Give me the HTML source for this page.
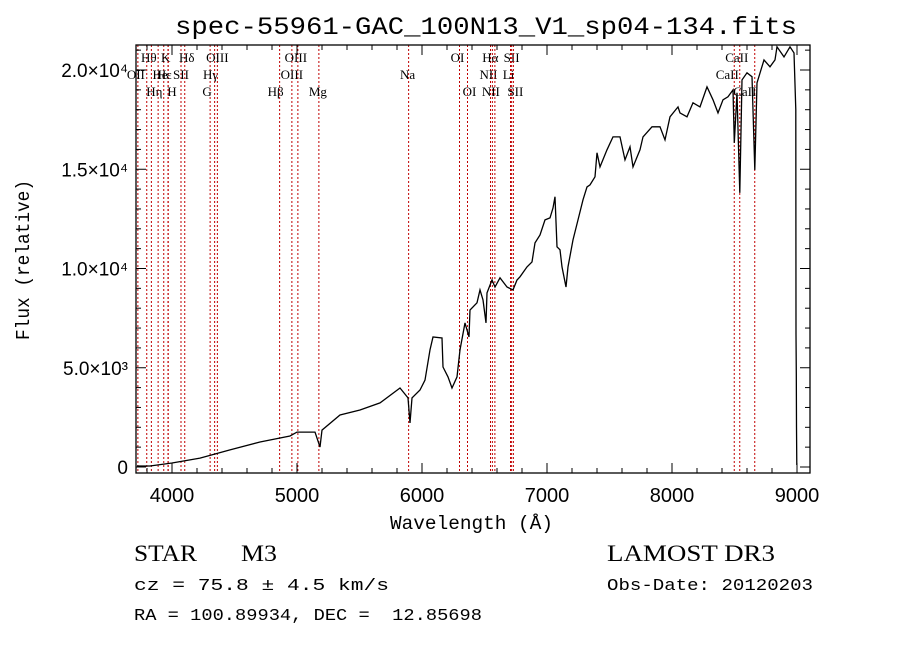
<!DOCTYPE html>
<html><head><meta charset="utf-8"><style>
html,body{margin:0;padding:0;background:#fff;}
svg{display:block;}
text{font-family:"Liberation Sans",sans-serif;fill:#000;}
.lbl{font-family:"Liberation Serif",serif;font-size:13px;}
.mono{font-family:"Liberation Mono",monospace;}
.serif{font-family:"Liberation Serif",serif;}
</style></head><body>
<svg id="chart" width="900" height="649" xmlns="http://www.w3.org/2000/svg">
<text class="mono" x="175" y="34" font-size="25" textLength="622" lengthAdjust="spacingAndGlyphs">spec-55961-GAC_100N13_V1_sp04-134.fits</text>
<g id="lines"></g><g id="axes"></g>
<text class="mono" transform="translate(29,340) rotate(-90)" font-size="19" textLength="160" lengthAdjust="spacingAndGlyphs">Flux (relative)</text>
<text class="mono" x="390" y="529" font-size="19" textLength="163" lengthAdjust="spacingAndGlyphs">Wavelength (Å)</text>
<text class="serif" x="134" y="561" font-size="23" textLength="63" lengthAdjust="spacingAndGlyphs">STAR</text>
<text class="serif" x="241" y="561" font-size="23" textLength="36" lengthAdjust="spacingAndGlyphs">M3</text>
<text class="mono" x="134" y="590" font-size="17" textLength="255" lengthAdjust="spacingAndGlyphs">cz = 75.8 ± 4.5 km/s</text>
<text class="mono" x="134" y="620" font-size="17" textLength="348" lengthAdjust="spacingAndGlyphs">RA = 100.89934, DEC =&#160;&#160;12.85698</text>
<text class="serif" x="607" y="561" font-size="23" textLength="168" lengthAdjust="spacingAndGlyphs">LAMOST DR3</text>
<text class="mono" x="607" y="590" font-size="17" textLength="206" lengthAdjust="spacingAndGlyphs">Obs-Date: 20120203</text>
</svg>
<script>
const wavelengths=[3720,3824,4000,4224,4464,4704,4944,5000,5144,5184,5200,5344,5504,5664,5824,5888,5904,5920,5984,6024,6064,6088,6160,6168,6208,6240,6280,6304,6344,6376,6384,6440,6464,6488,6512,6520,6560,6584,6624,6680,6728,6760,6784,6840,6880,6904,6944,6984,7024,7048,7064,7080,7104,7120,7152,7168,7208,7248,7288,7320,7344,7384,7400,7424,7480,7528,7584,7624,7664,7688,7744,7768,7840,7904,7944,7984,8048,8064,8120,8168,8224,8280,8328,8368,8408,8448,8488,8498,8520,8542,8560,8600,8640,8662,8680,8736,8784,8824,8840,8896,8944,8976,8990,8992,8994,8996,8998];
const fluxes=[50,50,200,450,860,1260,1560,1760,1760,1010,1860,2620,2870,3230,3980,3480,2220,3480,3880,4380,5900,6550,6500,5040,4540,3980,4540,5900,7260,6550,7910,8270,8920,8420,7260,8770,9420,9070,9530,9070,8920,9420,9580,10080,10330,11290,11690,12450,12550,13050,13610,11090,10940,10080,9070,10080,11440,12450,13460,14110,14210,14620,15830,15120,15980,16630,16630,15470,16130,15120,15980,16630,17140,17140,16480,17640,18140,17840,17640,18350,18140,19150,18500,17840,18500,18650,19000,16330,18850,13810,19500,19860,19660,14970,19350,20510,20160,20510,21170,20660,21170,20860,18000,6700,4700,2000,100];
const lineWaves=[3727,3798,3835,3889,3934,3968,3970,4072,4102,4305,4341,4363,4861,4959,5007,5175,5893,6300,6364,6548,6563,6583,6708,6717,6731,8498,8542,8662];
const lineLabels=[["OII",2,-2],["Hθ",1,2],["Hη",3,3],["He",2,2],["K",1,2],["H",3,4],["Hε",2,-4],["SII",2,0],["Hδ",1,2],["G",3,-3],["Hγ",2,-4],["OIII",1,0],["Hβ",3,-4],["OIII",2,0],["OIII",1,-2],["Mg",3,-1],["Na",2,-1],["OI",1,-2],["OI",3,2],["NII",2,-2],["Hα",1,-2],["NII",3,-4],["Li",2,-2],["SII",1,0],["SII",3,2],["CaII",2,-7],["CaII",1,-3],["CaII",3,-10]];
const xTicks=[4000,5000,6000,7000,8000,9000];
const yTicks=[0,5000,10000,15000,20000];
const yTickLabels=["0","5.0×10³","1.0×10⁴","1.5×10⁴","2.0×10⁴"];
const L=136,R=810,T=45,B=473;
function xs(w){return 172+(w-4000)*0.125;}
function ys(f){return 467-f*0.01985;}
const NS="http://www.w3.org/2000/svg";
function mk(tag,attrs,parent,txt){const e=document.createElementNS(NS,tag);for(const k in attrs)e.setAttribute(k,attrs[k]);if(txt!==undefined)e.textContent=txt;parent.appendChild(e);return e;}
const gl=document.getElementById('lines'),ga=document.getElementById('axes');
lineWaves.forEach((w,i)=>{
 const x=xs(w);
 const l=mk('line',{x1:x,x2:x,y1:T,y2:B,stroke:'#c00000','stroke-width':1,'stroke-dasharray':'2,2'},gl);
 
 
 const lb=lineLabels[i];
 const t=mk('text',{x:x+lb[2],y:45+lb[1]*17,class:'lbl','text-anchor':'middle'},gl,lb[0]);
 
 
});
let d='';
wavelengths.forEach((w,i)=>{d+=(i?'L':'M')+xs(w).toFixed(1)+','+ys(fluxes[i]).toFixed(1);});
const p=mk('path',{d:d,fill:'none',stroke:'#000','stroke-width':1.3},ga);


const fr=mk('rect',{x:L,y:T,width:R-L,height:B-T,fill:'none',stroke:'#000','stroke-width':1.3},ga);


for(let w=3800;w<=9100;w+=200){const x=xs(w);const big=w%1000===0;const len=big?10:5;
 mk('line',{x1:x,x2:x,y1:B,y2:B-len,stroke:'#000'},ga);mk('line',{x1:x,x2:x,y1:T,y2:T+len,stroke:'#000'},ga);}
for(let f=0;f<=21000;f+=1000){const y=ys(f);const big=f%5000===0;const len=big?10:5;
 mk('line',{x1:L,x2:L+len,y1:y,y2:y,stroke:'#000'},ga);mk('line',{x1:R,x2:R-len,y1:y,y2:y,stroke:'#000'},ga);}
xTicks.forEach(w=>{const t=mk('text',{x:xs(w),y:502,'font-size':20,'text-anchor':'middle'},ga,String(w));
 
 });
yTicks.forEach((f,i)=>{const t=mk('text',{x:128,y:ys(f)+7,'font-size':19,'text-anchor':'end'},ga,yTickLabels[i]);
 
 });
</script>
</body></html>
